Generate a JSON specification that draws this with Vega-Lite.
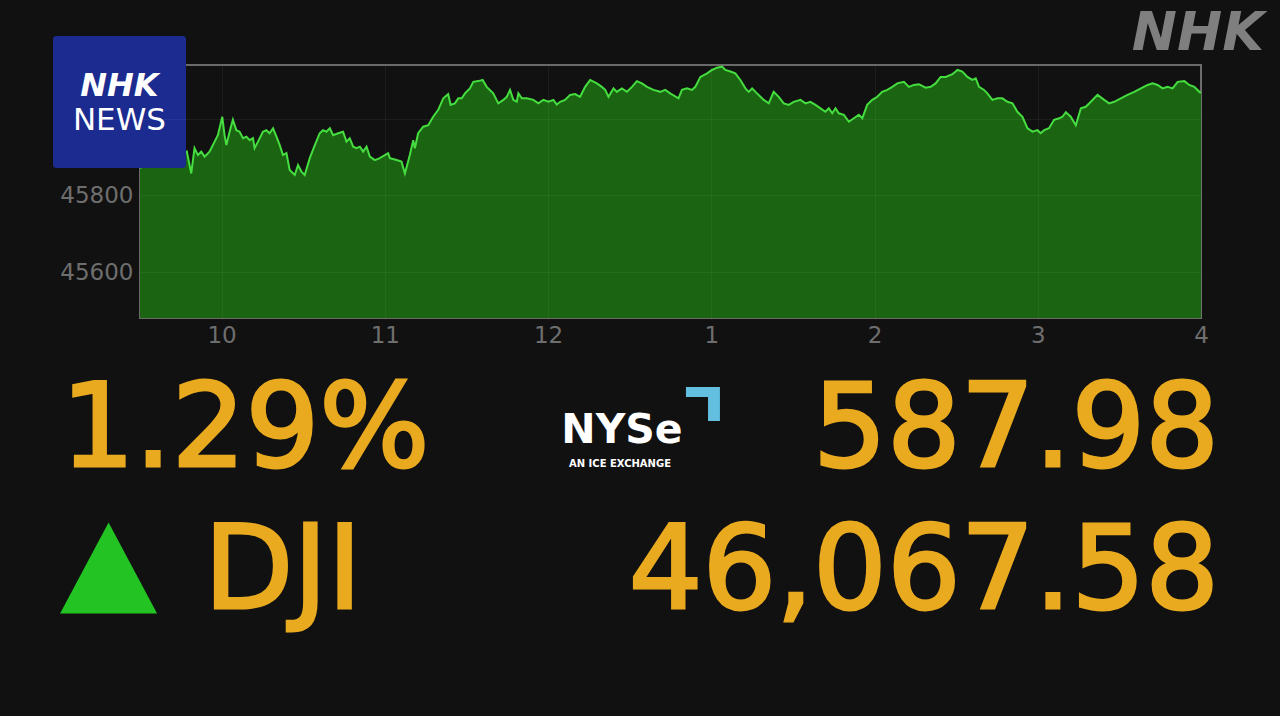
{
  "$schema": "https://vega.github.io/schema/vega-lite/v6.json",
  "background": "#111111",
  "padding": {"left": 51, "top": 6, "right": 16, "bottom": 76},
  "spacing": 8,
  "config": {"view": {"stroke": null}},
  "vconcat": [
    {
      "width": 1061,
      "height": 253,
      "view": {"stroke": "#6a6a6a", "strokeWidth": 2},
      "layer": [
        {
          "data": {"values": [
            {"t": 9.5, "v": 45871}, {"t": 9.56, "v": 45892}, {"t": 9.62, "v": 45879}, {"t": 9.68, "v": 45905}, {"t": 9.74, "v": 45897},
            {"t": 9.787, "v": 45914}, {"t": 9.814, "v": 45857}, {"t": 9.834, "v": 45923}, {"t": 9.855, "v": 45905}, {"t": 9.875, "v": 45914},
            {"t": 9.896, "v": 45901}, {"t": 9.926, "v": 45914}, {"t": 9.957, "v": 45940}, {"t": 9.977, "v": 45957}, {"t": 10.004, "v": 46005},
            {"t": 10.018, "v": 45957}, {"t": 10.029, "v": 45931}, {"t": 10.049, "v": 45966}, {"t": 10.069, "v": 45997}, {"t": 10.09, "v": 45970},
            {"t": 10.11, "v": 45966}, {"t": 10.131, "v": 45949}, {"t": 10.152, "v": 45953}, {"t": 10.172, "v": 45944}, {"t": 10.192, "v": 45949},
            {"t": 10.202, "v": 45923}, {"t": 10.223, "v": 45940}, {"t": 10.253, "v": 45966}, {"t": 10.274, "v": 45970}, {"t": 10.294, "v": 45962},
            {"t": 10.315, "v": 45975}, {"t": 10.336, "v": 45953}, {"t": 10.356, "v": 45931}, {"t": 10.376, "v": 45905}, {"t": 10.397, "v": 45910},
            {"t": 10.417, "v": 45866}, {"t": 10.448, "v": 45853}, {"t": 10.468, "v": 45879}, {"t": 10.489, "v": 45862}, {"t": 10.509, "v": 45853},
            {"t": 10.54, "v": 45897}, {"t": 10.571, "v": 45931}, {"t": 10.601, "v": 45962}, {"t": 10.621, "v": 45970}, {"t": 10.642, "v": 45966},
            {"t": 10.663, "v": 45975}, {"t": 10.683, "v": 45957}, {"t": 10.714, "v": 45962}, {"t": 10.744, "v": 45966}, {"t": 10.765, "v": 45940},
            {"t": 10.785, "v": 45949}, {"t": 10.806, "v": 45927}, {"t": 10.826, "v": 45923}, {"t": 10.847, "v": 45927}, {"t": 10.867, "v": 45914},
            {"t": 10.888, "v": 45927}, {"t": 10.908, "v": 45901}, {"t": 10.939, "v": 45892}, {"t": 10.969, "v": 45897}, {"t": 11.02, "v": 45910},
            {"t": 11.031, "v": 45897}, {"t": 11.072, "v": 45892}, {"t": 11.102, "v": 45888}, {"t": 11.123, "v": 45857}, {"t": 11.153, "v": 45905},
            {"t": 11.174, "v": 45944}, {"t": 11.184, "v": 45923}, {"t": 11.204, "v": 45962}, {"t": 11.235, "v": 45979}, {"t": 11.266, "v": 45983},
            {"t": 11.296, "v": 46005}, {"t": 11.327, "v": 46023}, {"t": 11.358, "v": 46053}, {"t": 11.388, "v": 46064}, {"t": 11.403, "v": 46036},
            {"t": 11.429, "v": 46040}, {"t": 11.45, "v": 46053}, {"t": 11.471, "v": 46053}, {"t": 11.491, "v": 46066}, {"t": 11.521, "v": 46079},
            {"t": 11.542, "v": 46096}, {"t": 11.572, "v": 46098}, {"t": 11.599, "v": 46101}, {"t": 11.624, "v": 46083}, {"t": 11.664, "v": 46066},
            {"t": 11.695, "v": 46040}, {"t": 11.726, "v": 46049}, {"t": 11.747, "v": 46057}, {"t": 11.767, "v": 46075}, {"t": 11.787, "v": 46049},
            {"t": 11.808, "v": 46044}, {"t": 11.818, "v": 46066}, {"t": 11.839, "v": 46053}, {"t": 11.869, "v": 46053}, {"t": 11.91, "v": 46049},
            {"t": 11.94, "v": 46040}, {"t": 11.971, "v": 46049}, {"t": 12.002, "v": 46044}, {"t": 12.033, "v": 46049}, {"t": 12.053, "v": 46037},
            {"t": 12.074, "v": 46044}, {"t": 12.104, "v": 46049}, {"t": 12.135, "v": 46062}, {"t": 12.166, "v": 46064}, {"t": 12.196, "v": 46057},
            {"t": 12.227, "v": 46083}, {"t": 12.258, "v": 46101}, {"t": 12.299, "v": 46092}, {"t": 12.329, "v": 46083}, {"t": 12.35, "v": 46075},
            {"t": 12.37, "v": 46057}, {"t": 12.401, "v": 46079}, {"t": 12.421, "v": 46070}, {"t": 12.452, "v": 46079}, {"t": 12.483, "v": 46070},
            {"t": 12.514, "v": 46083}, {"t": 12.544, "v": 46098}, {"t": 12.575, "v": 46092}, {"t": 12.606, "v": 46083}, {"t": 12.646, "v": 46075},
            {"t": 12.687, "v": 46070}, {"t": 12.718, "v": 46075}, {"t": 12.748, "v": 46066}, {"t": 12.799, "v": 46053}, {"t": 12.82, "v": 46075},
            {"t": 12.851, "v": 46079}, {"t": 12.882, "v": 46075}, {"t": 12.902, "v": 46083}, {"t": 12.933, "v": 46109}, {"t": 12.974, "v": 46118},
            {"t": 13.004, "v": 46127}, {"t": 13.035, "v": 46133}, {"t": 13.066, "v": 46136}, {"t": 13.086, "v": 46127}, {"t": 13.117, "v": 46123},
            {"t": 13.147, "v": 46118}, {"t": 13.178, "v": 46101}, {"t": 13.209, "v": 46079}, {"t": 13.229, "v": 46070}, {"t": 13.25, "v": 46079},
            {"t": 13.28, "v": 46066}, {"t": 13.321, "v": 46049}, {"t": 13.352, "v": 46040}, {"t": 13.382, "v": 46070}, {"t": 13.413, "v": 46057},
            {"t": 13.444, "v": 46040}, {"t": 13.474, "v": 46036}, {"t": 13.505, "v": 46044}, {"t": 13.546, "v": 46049}, {"t": 13.577, "v": 46040},
            {"t": 13.607, "v": 46044}, {"t": 13.638, "v": 46036}, {"t": 13.669, "v": 46027}, {"t": 13.699, "v": 46018}, {"t": 13.72, "v": 46027},
            {"t": 13.741, "v": 46014}, {"t": 13.761, "v": 46027}, {"t": 13.781, "v": 46014}, {"t": 13.812, "v": 46010}, {"t": 13.843, "v": 45992},
            {"t": 13.873, "v": 46001}, {"t": 13.904, "v": 46010}, {"t": 13.925, "v": 46001}, {"t": 13.955, "v": 46036}, {"t": 13.986, "v": 46049},
            {"t": 14.017, "v": 46057}, {"t": 14.047, "v": 46070}, {"t": 14.078, "v": 46075}, {"t": 14.109, "v": 46083}, {"t": 14.139, "v": 46092},
            {"t": 14.18, "v": 46096}, {"t": 14.211, "v": 46083}, {"t": 14.241, "v": 46088}, {"t": 14.272, "v": 46090}, {"t": 14.313, "v": 46081},
            {"t": 14.344, "v": 46083}, {"t": 14.374, "v": 46092}, {"t": 14.405, "v": 46109}, {"t": 14.436, "v": 46109}, {"t": 14.477, "v": 46116},
            {"t": 14.508, "v": 46127}, {"t": 14.538, "v": 46123}, {"t": 14.569, "v": 46109}, {"t": 14.599, "v": 46101}, {"t": 14.62, "v": 46105},
            {"t": 14.64, "v": 46083}, {"t": 14.671, "v": 46075}, {"t": 14.691, "v": 46066}, {"t": 14.722, "v": 46049}, {"t": 14.753, "v": 46053},
            {"t": 14.783, "v": 46053}, {"t": 14.814, "v": 46044}, {"t": 14.845, "v": 46040}, {"t": 14.875, "v": 46018}, {"t": 14.906, "v": 46005},
            {"t": 14.937, "v": 45975}, {"t": 14.968, "v": 45966}, {"t": 14.998, "v": 45970}, {"t": 15.018, "v": 45962}, {"t": 15.039, "v": 45970},
            {"t": 15.069, "v": 45975}, {"t": 15.1, "v": 45997}, {"t": 15.131, "v": 46001}, {"t": 15.151, "v": 46005}, {"t": 15.172, "v": 46017},
            {"t": 15.202, "v": 46005}, {"t": 15.233, "v": 45983}, {"t": 15.264, "v": 46027}, {"t": 15.294, "v": 46031}, {"t": 15.325, "v": 46044},
            {"t": 15.366, "v": 46062}, {"t": 15.407, "v": 46049}, {"t": 15.437, "v": 46040}, {"t": 15.468, "v": 46044}, {"t": 15.509, "v": 46053},
            {"t": 15.55, "v": 46062}, {"t": 15.591, "v": 46070}, {"t": 15.632, "v": 46079}, {"t": 15.673, "v": 46088}, {"t": 15.703, "v": 46092},
            {"t": 15.734, "v": 46088}, {"t": 15.765, "v": 46079}, {"t": 15.795, "v": 46083}, {"t": 15.826, "v": 46079}, {"t": 15.857, "v": 46096},
            {"t": 15.898, "v": 46098}, {"t": 15.928, "v": 46088}, {"t": 15.959, "v": 46083}, {"t": 15.99, "v": 46070}, {"t": 16.0, "v": 46067.58}
          ]},
          "mark": {"type": "area", "color": "#1a6412", "opacity": 1, "line": {"color": "#45dd3f", "strokeWidth": 2}},
          "encoding": {
            "x": {"field": "t", "type": "quantitative",
              "scale": {"domain": [9.5, 16], "nice": false, "zero": false},
              "axis": {"values": [10, 11, 12, 13, 14, 15, 16], "labelExpr": "'' + (datum.value > 12 ? datum.value - 12 : datum.value)",
                "domain": false, "ticks": false, "tickSize": 0, "labelPadding": 6, "labelFlush": false,
                "labelFont": "DejaVu Sans", "labelFontSize": 23, "labelColor": "#6e6e6e",
                "grid": true, "gridColor": "#ffffff", "gridOpacity": 0.05, "zindex": 1, "title": null}},
            "y": {"field": "v", "type": "quantitative",
              "scale": {"domain": [45480, 46140], "nice": false, "zero": false},
              "axis": {"values": [45600, 45800, 46000], "format": "d", "labelExpr": "datum.value == 46000 ? '' : datum.label",
                "domain": false, "ticks": false, "tickSize": 0, "labelPadding": 7, "labelFlush": false,
                "labelFont": "DejaVu Sans", "labelFontSize": 23, "labelColor": "#6e6e6e",
                "grid": true, "gridColor": "#ffffff", "gridOpacity": 0.05, "zindex": 1, "title": null}},
            "y2": {"datum": 45480}
          }
        },
        {
          "data": {"values": [{"brand": "NHK NEWS"}]},
          "mark": {"type": "rect", "color": "#1b2b8f", "cornerRadius": 3, "opacity": 1},
          "encoding": {
            "x": {"datum": 8.967, "type": "quantitative"},
            "x2": {"datum": 9.782},
            "y": {"datum": 46215.6, "type": "quantitative"},
            "y2": {"datum": 45871.3}
          }
        },
        {
          "data": {"values": [{"brand": "NHK"}]},
          "mark": {"type": "text", "align": "center", "baseline": "alphabetic", "font": "DejaVu Sans", "fontWeight": "bold", "fontStyle": "italic", "fontSize": 32, "color": "#ffffff"},
          "encoding": {
            "text": {"field": "brand"},
            "x": {"datum": 9.374, "type": "quantitative"},
            "y": {"datum": 46059, "type": "quantitative"}
          }
        },
        {
          "data": {"values": [{"brand": "NEWS"}]},
          "mark": {"type": "text", "align": "center", "baseline": "alphabetic", "font": "DejaVu Sans", "fontSize": 31, "color": "#ffffff"},
          "encoding": {
            "text": {"field": "brand"},
            "x": {"datum": 9.374, "type": "quantitative"},
            "y": {"datum": 45970.4, "type": "quantitative"}
          }
        },
        {
          "data": {"values": [{"brand": "NHK"}]},
          "mark": {"type": "text", "align": "right", "baseline": "alphabetic", "font": "DejaVu Sans", "fontWeight": "bold", "fontStyle": "italic", "fontSize": 54, "color": "#7f7f7f"},
          "encoding": {
            "text": {"field": "brand"},
            "x": {"datum": 16.386, "type": "quantitative"},
            "y": {"datum": 46179.1, "type": "quantitative"}
          }
        }
      ]
    },
    {
      "width": 1083,
      "height": 284,
      "data": {"values": [{"change_pct": "1.29%", "change": "587.98", "index": "DJI", "close": "46,067.58", "direction": "up", "exchange": "NYSe", "tagline": "AN ICE EXCHANGE"}]},
      "layer": [
        {
          "mark": {"type": "text", "align": "left", "baseline": "alphabetic", "dx": 8, "font": "DejaVu Sans", "fontSize": 116, "fill": "#e9aa1f", "stroke": "#e9aa1f", "strokeWidth": 3},
          "encoding": {
            "text": {"field": "change_pct"},
            "x": {"datum": "left", "type": "nominal", "scale": {"type": "band", "domain": ["left", "right"], "range": [-87, 1083], "paddingInner": 0, "paddingOuter": 0}, "axis": null, "bandPosition": 0},
            "y": {"datum": "upper", "type": "nominal", "scale": {"type": "band", "domain": ["upper", "lower"], "paddingInner": 0, "paddingOuter": 0}, "axis": null, "bandPosition": 0.775}
          }
        },
        {
          "mark": {"type": "text", "align": "right", "baseline": "alphabetic", "dx": -4, "font": "DejaVu Sans", "fontSize": 116, "fill": "#e9aa1f", "stroke": "#e9aa1f", "strokeWidth": 3},
          "encoding": {
            "text": {"field": "change"},
            "x": {"datum": "right", "type": "nominal", "scale": {"type": "band", "domain": ["left", "right"], "range": [-87, 1083], "paddingInner": 0, "paddingOuter": 0}, "axis": null, "bandPosition": 1},
            "y": {"datum": "upper", "type": "nominal", "scale": {"type": "band", "domain": ["upper", "lower"], "paddingInner": 0, "paddingOuter": 0}, "axis": null, "bandPosition": 0.775}
          }
        },
        {
          "mark": {"type": "text", "align": "left", "baseline": "alphabetic", "dx": 151, "font": "DejaVu Sans", "fontSize": 116, "fill": "#e9aa1f", "stroke": "#e9aa1f", "strokeWidth": 3},
          "encoding": {
            "text": {"field": "index"},
            "x": {"datum": "left", "type": "nominal", "scale": {"type": "band", "domain": ["left", "right"], "range": [-87, 1083], "paddingInner": 0, "paddingOuter": 0}, "axis": null, "bandPosition": 0},
            "y": {"datum": "lower", "type": "nominal", "scale": {"type": "band", "domain": ["upper", "lower"], "paddingInner": 0, "paddingOuter": 0}, "axis": null, "bandPosition": 0.775}
          }
        },
        {
          "mark": {"type": "text", "align": "right", "baseline": "alphabetic", "dx": -4, "font": "DejaVu Sans", "fontSize": 116, "fill": "#e9aa1f", "stroke": "#e9aa1f", "strokeWidth": 3},
          "encoding": {
            "text": {"field": "close"},
            "x": {"datum": "right", "type": "nominal", "scale": {"type": "band", "domain": ["left", "right"], "range": [-87, 1083], "paddingInner": 0, "paddingOuter": 0}, "axis": null, "bandPosition": 1},
            "y": {"datum": "lower", "type": "nominal", "scale": {"type": "band", "domain": ["upper", "lower"], "paddingInner": 0, "paddingOuter": 0}, "axis": null, "bandPosition": 0.775}
          }
        },
        {
          "mark": {"type": "point", "shape": "M-1,0.94L0,-0.94L1,0.94Z", "filled": true, "size": 9409, "color": "#22c322", "opacity": 1, "strokeWidth": 0},
          "encoding": {
            "x": {"datum": "left", "type": "nominal", "scale": {"type": "band", "domain": ["left", "right"], "range": [-87, 1083], "paddingInner": 0, "paddingOuter": 0}, "axis": null, "bandPosition": 0.095},
            "y": {"datum": "lower", "type": "nominal", "scale": {"type": "band", "domain": ["upper", "lower"], "paddingInner": 0, "paddingOuter": 0}, "axis": null, "bandPosition": 0.493}
          }
        },
        {
          "mark": {"type": "text", "align": "center", "baseline": "alphabetic", "dx": -16, "font": "DejaVu Sans", "fontWeight": "bold", "fontSize": 41, "fill": "#ffffff"},
          "encoding": {
            "text": {"field": "exchange"},
            "x": {"datum": "left", "type": "nominal", "scale": {"type": "band", "domain": ["left", "right"], "range": [-87, 1083], "paddingInner": 0, "paddingOuter": 0}, "axis": null, "bandPosition": 1},
            "y": {"datum": "upper", "type": "nominal", "scale": {"type": "band", "domain": ["upper", "lower"], "paddingInner": 0, "paddingOuter": 0}, "axis": null, "bandPosition": 0.613}
          }
        },
        {
          "mark": {"type": "text", "align": "center", "baseline": "alphabetic", "dx": -18, "font": "DejaVu Sans", "fontWeight": "bold", "fontSize": 10, "fill": "#ffffff"},
          "encoding": {
            "text": {"field": "tagline"},
            "x": {"datum": "left", "type": "nominal", "scale": {"type": "band", "domain": ["left", "right"], "range": [-87, 1083], "paddingInner": 0, "paddingOuter": 0}, "axis": null, "bandPosition": 1},
            "y": {"datum": "upper", "type": "nominal", "scale": {"type": "band", "domain": ["upper", "lower"], "paddingInner": 0, "paddingOuter": 0}, "axis": null, "bandPosition": 0.782}
          }
        },
        {
          "mark": {"type": "point", "shape": "M-1,-1L1,-1L1,1L0.3,1L0.3,-0.41L-1,-0.41Z", "filled": true, "size": 1156, "color": "#62bfe0", "opacity": 1, "strokeWidth": 0},
          "encoding": {
            "x": {"datum": "right", "type": "nominal", "scale": {"type": "band", "domain": ["left", "right"], "range": [-87, 1083], "paddingInner": 0, "paddingOuter": 0}, "axis": null, "bandPosition": 0.111},
            "y": {"datum": "upper", "type": "nominal", "scale": {"type": "band", "domain": ["upper", "lower"], "paddingInner": 0, "paddingOuter": 0}, "axis": null, "bandPosition": 0.338}
          }
        }
      ]
    }
  ]
}
